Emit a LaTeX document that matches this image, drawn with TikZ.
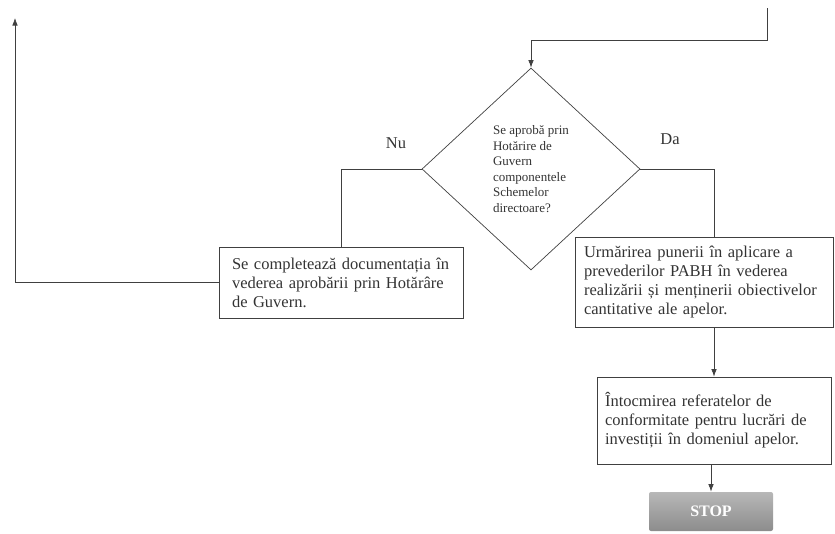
\documentclass[tikz,border=0pt]{standalone}
\usepackage{fontspec}
\setmainfont{Liberation Serif}
\usetikzlibrary{shapes.geometric,arrows.meta}

\begin{document}
\begin{tikzpicture}
[x=1pt, y=-1pt, draw=black!75, line width=0.7pt, text=black!80,
proc0/.style={rectangle, draw, inner sep=0pt, align=left, font=\fontsize{16.5}{19}\selectfont},
cond0/.style={diamond, draw, inner sep=0pt, aspect=1.08, minimum width=218pt, minimum height=202pt, align=left, font=\fontsize{13}{15.5}\selectfont},
term0/.style={rectangle, rounded corners=2pt, draw=none, top color=black!28, bottom color=black!45, text=white, font=\fontsize{16}{18}\selectfont\bfseries},
arr/.style={-{Latex[length=7.5pt, width=5.5pt]}},
lbl/.style={font=\fontsize{16.5}{19}\selectfont}]

\useasboundingbox (0,0) rectangle (835,533);

\node[cond0] (dec) at (531,169) {Se aprobă prin\\Hotărire de\\Guvern\\componentele\\Schemelor\\directoare?};

\node[proc0, minimum width=244pt, minimum height=71pt, text width=218pt] (doc) at (341,282.5)
  {Se completează documentația în\\vederea aprobării prin Hotărâre\\de Guvern.};
\node[proc0, minimum width=258pt, minimum height=90pt, text width=240pt] (urmar) at (704,282)
  {Urmărirea punerii în aplicare a\\prevederilor PABH în vederea\\realizării și menținerii obiectivelor\\cantitative ale apelor.};
\node[proc0, minimum width=234pt, minimum height=87pt, text width=218pt] (refer) at (714,420.5)
  {Întocmirea referatelor de\\conformitate pentru lucrări de\\investiții în domeniul apelor.};
\node[term0, minimum width=124pt, minimum height=39pt] (stop) at (711,511.5) {STOP};

\node[lbl] (nu) at (396,143) {Nu};
\node[lbl] (da) at (670,139) {Da};

\coordinate (in) at (767,8);
\coordinate (bend) at (767,40);
\coordinate (out) at (15,18);

\draw[arr] (in) -- (bend) -| (dec.north);
\draw (dec.west) -| (doc.north);
\draw (dec.east) -| (refer.north |- urmar.north);
\draw[arr] (doc.west) -| (out);
\draw[arr] (refer.north |- urmar.south) -- (refer.north);
\draw[arr] (stop.north |- refer.south) -- (stop.north);
\end{tikzpicture}
\end{document}
